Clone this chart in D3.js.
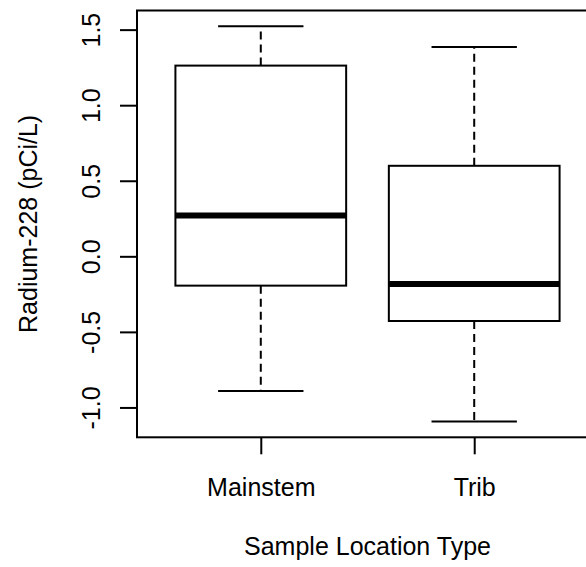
<!DOCTYPE html>
<html>
<head>
<meta charset="utf-8">
<script src="https://cdn.jsdelivr.net/npm/d3@7"></script>
<style>
body { margin: 0; background: #fff; }
text { font-family: "Liberation Sans", Arial, sans-serif; fill: #000; }
</style>
</head>
<body>
<div class="box-plot"></div>
<script>
// boxplot stats
var groups = ['Mainstem', 'Trib'];
var whiskerLow = [-0.892, -1.093];
var hingeLow = [-0.194, -0.428];
var medians = [0.270, -0.183];
var hingeHigh = [1.262, 0.599];
var whiskerHigh = [1.522, 1.385];
var yTicks = [-1.0, -0.5, 0.0, 0.5, 1.0, 1.5];

var width = 586, height = 567;
var plotLeft = 137, plotRight = 598, plotTop = 10.5, plotBottom = 437.3;
var fontSize = 25;

var data = groups.map(function(g, i) {
  return { name: g, pos: i + 1, lo: whiskerLow[i], q1: hingeLow[i], med: medians[i], q3: hingeHigh[i], hi: whiskerHigh[i] };
});

// plain hyphen for negatives, like R
var fmt = d3.formatLocale({ decimal: '.', thousands: ',', grouping: [3], currency: ['', ''], minus: '-' }).format('.1f');

// R style: range padded by 4%
var yMin = d3.min(whiskerLow), yMax = d3.max(whiskerHigh);
var pad = (yMax - yMin) * 0.04;
var y = d3.scaleLinear().domain([yMin - pad, yMax + pad]).range([plotBottom, plotTop]);
var x = d3.scaleLinear().domain([0.5 - 0.08, groups.length + 0.5 + 0.08]).range([plotLeft, plotRight]);
var halfBox = x(1.4) - x(1), halfStaple = x(1.2) - x(1);

var svg = d3.select('.box-plot').append('svg').attr('width', width).attr('height', height);

// y axis
var yAxis = svg.append('g').attr('transform', 'translate(' + plotLeft + ',0)')
  .call(d3.axisLeft(y).tickValues(yTicks).tickFormat(fmt).tickSize(17).tickSizeOuter(0));
yAxis.select('.domain').remove();
yAxis.selectAll('.tick line').attr('stroke-width', 2);
yAxis.selectAll('.tick text')
  .attr('transform', 'rotate(-90)')
  .attr('x', 0).attr('y', -37).attr('dy', 0)
  .attr('text-anchor', 'middle')
  .style('font-size', fontSize + 'px').style('font-family', '"Liberation Sans", Arial, sans-serif');

// x axis
var xAxis = svg.append('g').attr('transform', 'translate(0,' + plotBottom + ')')
  .call(d3.axisBottom(x).tickValues(data.map(function(d) { return d.pos; }))
    .tickFormat(function(d) { return groups[d - 1]; }).tickSize(17).tickSizeOuter(0));
xAxis.select('.domain').remove();
xAxis.selectAll('.tick line').attr('stroke-width', 2);
xAxis.selectAll('.tick text').attr('y', 59).attr('dy', 0)
  .style('font-size', fontSize + 'px').style('font-family', '"Liberation Sans", Arial, sans-serif');

// frame
svg.append('rect').attr('x', plotLeft).attr('y', plotTop).attr('width', plotRight - plotLeft).attr('height', plotBottom - plotTop)
  .attr('fill', 'none').attr('stroke', '#000').attr('stroke-width', 2);

var box = svg.selectAll('.box').data(data).enter().append('g').attr('class', 'box');
// whiskers
box.append('line').attr('x1', function(d) { return x(d.pos); }).attr('x2', function(d) { return x(d.pos); })
  .attr('y1', function(d) { return y(d.q3); }).attr('y2', function(d) { return y(d.hi); })
  .attr('stroke', '#000').attr('stroke-width', 2).attr('stroke-dasharray', '8,5');
box.append('line').attr('x1', function(d) { return x(d.pos); }).attr('x2', function(d) { return x(d.pos); })
  .attr('y1', function(d) { return y(d.q1); }).attr('y2', function(d) { return y(d.lo); })
  .attr('stroke', '#000').attr('stroke-width', 2).attr('stroke-dasharray', '8,5');
// staples
['hi', 'lo'].forEach(function(k) {
  box.append('line').attr('x1', function(d) { return x(d.pos) - halfStaple; }).attr('x2', function(d) { return x(d.pos) + halfStaple; })
    .attr('y1', function(d) { return y(d[k]); }).attr('y2', function(d) { return y(d[k]); })
    .attr('stroke', '#000').attr('stroke-width', 2);
});
// boxes
box.append('rect').attr('x', function(d) { return x(d.pos) - halfBox; }).attr('width', 2 * halfBox)
  .attr('y', function(d) { return y(d.q3); }).attr('height', function(d) { return y(d.q1) - y(d.q3); })
  .attr('fill', '#fff').attr('stroke', '#000').attr('stroke-width', 2);
// medians
box.append('line').attr('x1', function(d) { return x(d.pos) - halfBox; }).attr('x2', function(d) { return x(d.pos) + halfBox; })
  .attr('y1', function(d) { return y(d.med); }).attr('y2', function(d) { return y(d.med); })
  .attr('stroke', '#000').attr('stroke-width', 6);

// titles
svg.append('text').attr('x', (plotLeft + plotRight) / 2).attr('y', 555).attr('text-anchor', 'middle')
  .style('font-size', fontSize + 'px').text('Sample Location Type');
svg.append('text').attr('transform', 'translate(37,' + (plotTop + plotBottom) / 2 + ') rotate(-90)')
  .attr('text-anchor', 'middle').style('font-size', fontSize + 'px').text('Radium-228 (pCi/L)');
</script>
</body>
</html>
